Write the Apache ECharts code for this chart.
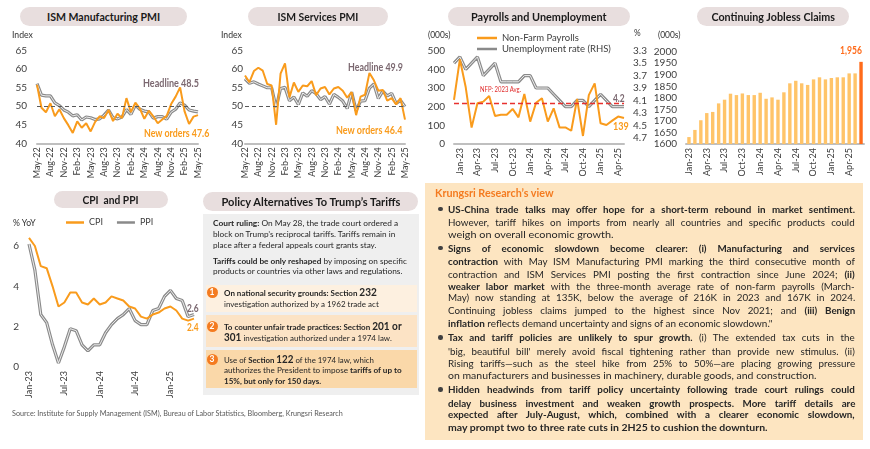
<!DOCTYPE html>
<html><head><meta charset="utf-8"><title>US economy dashboard</title>
<script src="https://cdn.jsdelivr.net/npm/echarts@6.0.0/dist/echarts.min.js"></script>
<style>
*{box-sizing:border-box}
html,body{margin:0;padding:0;background:#fff;width:870px;height:449px;overflow:hidden;font-family:Lato,"Open Sans",sans-serif;color:#262626}
#chart{position:absolute;left:0;top:0;width:870px;height:449px;z-index:1}
.t{position:absolute;white-space:nowrap;line-height:12px;height:12px;z-index:3}
.t span,.ln span{display:inline-block;white-space:nowrap}
.pill{position:absolute;background:#E8DEDE;border-radius:10px;display:flex;align-items:center;justify-content:center;z-index:2}
.pill span{font-weight:700;font-size:11.5px;color:#1a1a1a;white-space:nowrap;display:inline-block}
.box{position:absolute;z-index:0}
.ln{position:absolute;white-space:nowrap;line-height:12px;height:12px;z-index:3}
.kr .ln{font-size:9.8px;color:#262626}
.po .ln{font-size:8.4px;color:#262626}
.big{font-size:10.5px;font-weight:700}
.dot{position:absolute;width:4.5px;height:4.5px;border-radius:50%;background:#404040;z-index:3}
.num{position:absolute;width:11px;height:11px;border-radius:50%;background:#F47B20;color:#fff;font-weight:700;font-size:8.5px;line-height:11px;text-align:center;z-index:3}
</style></head>
<body>
<div id="chart"></div>

<!-- title pills -->
<div class="pill" style="left:20px;top:7px;width:167px;height:19px"><span data-w="113" data-o="50% 50%">ISM Manufacturing PMI</span></div>
<div class="pill" style="left:248px;top:7px;width:140px;height:19px"><span data-w="81" data-o="50% 50%">ISM Services PMI</span></div>
<div class="pill" style="left:448px;top:7px;width:182px;height:19px"><span data-w="136" data-o="50% 50%">Payrolls and Unemployment</span></div>
<div class="pill" style="left:697px;top:7px;width:152px;height:19px"><span data-w="124" data-o="50% 50%">Continuing Jobless Claims</span></div>
<div class="pill" style="left:54px;top:191px;width:114px;height:17px"><span data-w="56" data-o="50% 50%">CPI&nbsp; and PPI</span></div>
<div class="pill" style="left:203px;top:192px;width:215px;height:19px"><span data-w="179" data-o="50% 50%">Policy Alternatives To Trump’s Tariffs</span></div>

<!-- unit labels -->
<div class="t" style="left:12px;top:29px;font-size:9.5px;color:#333"><span data-w="21">Index</span></div>
<div class="t" style="left:221px;top:29px;font-size:9.5px;color:#333"><span data-w="21">Index</span></div>
<div class="t" style="left:428px;top:29px;font-size:9.5px;color:#333"><span data-w="23">(000s)</span></div>
<div class="t" style="left:634px;top:27px;font-size:9.5px;color:#333"><span data-w="7">%</span></div>
<div class="t" style="left:658px;top:29px;font-size:9.5px;color:#333"><span data-w="23">(000s)</span></div>
<div class="t" style="left:13px;top:217px;font-size:9px;color:#333"><span data-w="23">% YoY</span></div>

<!-- chart annotations (text built from the data arrays) -->
<div class="t" style="left:143px;top:77px;font-size:10.5px;font-weight:700;color:#7B6870"><span id="aMfgH" data-w="56"></span></div>
<div class="t" style="left:144px;top:127px;font-size:10.5px;font-weight:700;color:#F99B1C"><span id="aMfgN" data-w="65"></span></div>
<div class="t" style="left:348px;top:61px;font-size:10.5px;font-weight:700;color:#7B6870"><span id="aSvcH" data-w="55"></span></div>
<div class="t" style="left:336px;top:124px;font-size:10.5px;font-weight:700;color:#F99B1C"><span id="aSvcN" data-w="66"></span></div>
<div class="t" style="left:480px;top:83px;font-size:7px;color:#E02A2A"><span data-w="41">NFP: 2023 Avg.</span></div>
<div class="t" style="left:613px;top:92px;font-size:10.5px;font-weight:700;color:#7B6870"><span id="aUn" data-w="12"></span></div>
<div class="t" style="left:613px;top:120px;font-size:10.5px;font-weight:700;color:#F99B1C"><span id="aNfp" data-w="15.5"></span></div>
<div class="t" style="left:840px;top:44px;font-size:10.5px;font-weight:700;color:#FF6B1A"><span id="aClaims" data-w="22"></span></div>
<div class="t" style="left:187px;top:302px;font-size:10.5px;font-weight:700;color:#7B6870"><span id="aPpi" data-w="12"></span></div>
<div class="t" style="left:187px;top:321px;font-size:10.5px;font-weight:700;color:#F99B1C"><span id="aCpi" data-w="12"></span></div>

<!-- policy box -->
<div class="po">
<div class="box" style="left:203px;top:214px;width:216px;height:181px;background:#EFEFEF"></div>
<div class="ln" style="left:213px;top:217px"><span data-w="185"><b>Court ruling:</b> On May 28, the trade court ordered a</span></div>
<div class="ln" style="left:213px;top:228.3px"><span data-w="182">block on Trump’s reciprocal tariffs. Tariffs remain in</span></div>
<div class="ln" style="left:213px;top:239px"><span data-w="163">place after a federal appeals court grants stay.</span></div>
<div class="ln" style="left:213px;top:254.7px"><span data-w="194"><b>Tariffs could be only reshaped</b> by imposing on specific</span></div>
<div class="ln" style="left:213px;top:265px"><span data-w="189">products or countries via other laws and regulations.</span></div>

<div class="box" style="left:206px;top:285px;width:211px;height:27px;background:#FDF0E0"></div>
<div class="num" style="left:206.5px;top:286.5px">1</div>
<div class="ln" style="left:224px;top:286px"><span data-w="153"><b>On national security grounds: Section <span class="big">232</span></b></span></div>
<div class="ln" style="left:224px;top:298px"><span data-w="155">investigation authorized by a 1962 trade act</span></div>

<div class="box" style="left:206px;top:315px;width:211px;height:32px;background:#FCE3C5"></div>
<div class="num" style="left:206.5px;top:320.5px">2</div>
<div class="ln" style="left:224px;top:320px"><span data-w="178"><b>To counter unfair trade practices: Section <span class="big">201 or</span></b></span></div>
<div class="ln" style="left:224px;top:331.3px"><span data-w="168"><b class="big">301</b> investigation authorized under a 1974 law.</span></div>

<div class="box" style="left:206px;top:350px;width:211px;height:38px;background:#FAD8A9"></div>
<div class="num" style="left:206.5px;top:353.5px">3</div>
<div class="ln" style="left:224px;top:353px"><span data-w="150">Use of <b>Section <span class="big">122</span></b> of the 1974 law, which</span></div>
<div class="ln" style="left:224px;top:364px"><span data-w="178">authorizes the President to impose <b>tariffs of up to</b></span></div>
<div class="ln" style="left:224px;top:375px"><span data-w="97"><b>15%, but only for 150 days.</b></span></div>
</div>

<!-- Krungsri view -->
<div class="kr">
<div class="box" style="left:425px;top:183px;width:438px;height:257px;background:#FDE5C1"></div>
<div class="ln" style="left:435px;top:187px;font-size:10.5px;font-weight:700;color:#F47B20"><span data-w="119">Krungsri Research’s view</span></div>
<div class="dot" style="left:438px;top:206.8px"></div>
<div class="ln" style="left:448px;top:203px"><span data-w="407" data-j="1"><b>US-China trade talks may offer hope for a short-term rebound in market sentiment.</b></span></div>
<div class="ln" style="left:448px;top:215.5px"><span data-w="407" data-j="1">However, tariff hikes on imports from nearly all countries and specific products could</span></div>
<div class="ln" style="left:448px;top:228px"><span data-w="166">weigh on overall economic growth.</span></div>
<div class="dot" style="left:438px;top:245.8px"></div>
<div class="ln" style="left:448px;top:242px"><span data-w="407" data-j="1"><b>Signs of economic slowdown become clearer: (i) Manufacturing and services</b></span></div>
<div class="ln" style="left:448px;top:254.8px"><span data-w="407" data-j="1"><b>contraction</b> with May ISM Manufacturing PMI marking the third consecutive month of</span></div>
<div class="ln" style="left:448px;top:267.5px"><span data-w="407" data-j="1">contraction and ISM Services PMI posting the first contraction since June 2024; <b>(ii)</b></span></div>
<div class="ln" style="left:448px;top:280px"><span data-w="407" data-j="1"><b>weaker labor market</b> with the three-month average rate of non-farm payrolls (March-</span></div>
<div class="ln" style="left:448px;top:290.7px"><span data-w="407" data-j="1">May) now standing at 135K, below the average of 216K in 2023 and 167K in 2024.</span></div>
<div class="ln" style="left:448px;top:304px"><span data-w="407" data-j="1">Continuing jobless claims jumped to the highest since Nov 2021; and <b>(iii) Benign</b></span></div>
<div class="ln" style="left:448px;top:317.3px"><span data-w="324"><b>inflation</b> reflects demand uncertainty and signs of an economic slowdown."</span></div>
<div class="dot" style="left:438px;top:335.1px"></div>
<div class="ln" style="left:448px;top:331.3px"><span data-w="407" data-j="1"><b>Tax and tariff policies are unlikely to spur growth.</b> (i) The extended tax cuts in the</span></div>
<div class="ln" style="left:448px;top:344.7px"><span data-w="407" data-j="1">'big, beautiful bill' merely avoid fiscal tightening rather than provide new stimulus. (ii)</span></div>
<div class="ln" style="left:448px;top:357.3px"><span data-w="407" data-j="1">Rising tariffs—such as the steel hike from 25% to 50%—are placing growing pressure</span></div>
<div class="ln" style="left:448px;top:369px"><span data-w="369">on manufacturers and businesses in machinery, durable goods, and construction.</span></div>
<div class="dot" style="left:438px;top:387.1px"></div>
<div class="ln" style="left:448px;top:383.3px"><span data-w="407" data-j="1"><b>Hidden headwinds from tariff policy uncertainty following trade court rulings could</b></span></div>
<div class="ln" style="left:448px;top:396.7px"><span data-w="407" data-j="1"><b>delay business investment and weaken growth prospects. More tariff details are</b></span></div>
<div class="ln" style="left:448px;top:408.3px"><span data-w="407" data-j="1"><b>expected after July-August, which, combined with a clearer economic slowdown,</b></span></div>
<div class="ln" style="left:448px;top:420.7px"><span data-w="320"><b>may prompt two to three rate cuts in 2H25 to cushion the downturn.</b></span></div>
</div>

<div class="t" style="left:12px;top:407px;font-size:7.6px;color:#595959"><span data-w="331" data-j="1">Source: Institute for Supply Management (ISM), Bureau of Labor Statistics, Bloomberg, Krungsri Research</span></div>

<script>
// ---------------- DATA ----------------
const ismMonths = ['May-22','Jun-22','Jul-22','Aug-22','Sep-22','Oct-22','Nov-22','Dec-22','Jan-23','Feb-23','Mar-23','Apr-23','May-23','Jun-23','Jul-23','Aug-23','Sep-23','Oct-23','Nov-23','Dec-23','Jan-24','Feb-24','Mar-24','Apr-24','May-24','Jun-24','Jul-24','Aug-24','Sep-24','Oct-24','Nov-24','Dec-24','Jan-25','Feb-25','Mar-25','Apr-25','May-25'];
const mfgHeadline = [56.1,53.0,52.8,52.8,50.9,50.2,49.0,48.4,47.4,47.7,46.3,47.1,46.9,46.4,46.6,47.6,49.0,46.9,46.6,47.1,49.1,47.8,50.3,49.2,48.7,48.5,46.8,47.2,47.2,46.5,48.4,49.2,50.9,50.3,49.0,48.7,48.5];
const mfgNewOrders = [55.8,49.6,48.4,50.8,47.3,49.2,46.8,44.9,42.8,45.9,44.2,45.4,43.2,45.8,47.3,46.8,49.0,46.0,48.0,46.8,52.2,48.4,51.0,49.4,46.6,48.8,47.3,45.4,46.4,47.4,50.6,52.6,55.1,48.6,45.2,47.2,47.6];
const svcHeadline = [57.4,56.2,56.6,56.0,55.5,55.0,55.0,49.6,54.8,55.1,51.5,52.5,50.5,53.6,52.7,54.2,53.4,51.8,52.6,50.6,53.2,52.4,51.4,49.4,53.8,48.8,51.4,51.5,54.9,56.0,52.1,54.1,52.8,53.5,50.8,51.6,49.9];
const svcNewOrders = [58.3,56.5,59.5,60.4,59.6,56.0,55.6,45.0,58.8,61.6,52.4,56.4,53.9,55.6,55.4,56.8,53.0,54.8,55.2,53.2,54.8,55.2,54.2,52.3,53.8,47.6,52.6,53.1,59.0,57.0,54.2,54.4,51.5,52.2,50.5,52.2,46.4];

const labourMonths = ['Dec-22','Jan-23','Feb-23','Mar-23','Apr-23','May-23','Jun-23','Jul-23','Aug-23','Sep-23','Oct-23','Nov-23','Dec-23','Jan-24','Feb-24','Mar-24','Apr-24','May-24','Jun-24','Jul-24','Aug-24','Sep-24','Oct-24','Nov-24','Dec-24','Jan-25','Feb-25','Mar-25','Apr-25','May-25'];
const payrolls = [236,454,304,88,218,227,257,150,157,157,188,143,268,120,221,245,120,191,89,89,71,241,43,262,325,111,102,125,147,139];
const unemployment = [3.5,3.4,3.6,3.5,3.4,3.7,3.6,3.5,3.8,3.8,3.8,3.8,3.7,3.7,3.9,3.9,3.9,4.0,4.1,4.2,4.2,4.1,4.1,4.2,4.1,4.0,4.1,4.2,4.2,4.2];
const nfpAvg2023 = 216;

const claimsMonths = ['Jan-23','Feb-23','Mar-23','Apr-23','May-23','Jun-23','Jul-23','Aug-23','Sep-23','Oct-23','Nov-23','Dec-23','Jan-24','Feb-24','Mar-24','Apr-24','May-24','Jun-24','Jul-24','Aug-24','Sep-24','Oct-24','Nov-24','Dec-24','Jan-25','Feb-25','Mar-25','Apr-25','May-25','Jun-25'];
const claims = [1630,1661,1703,1734,1739,1776,1792,1818,1812,1819,1812,1812,1822,1796,1802,1792,1824,1863,1874,1863,1856,1880,1889,1880,1886,1889,1889,1906,1906,1956];

const priceMonths = ['Jan-23','Feb-23','Mar-23','Apr-23','May-23','Jun-23','Jul-23','Aug-23','Sep-23','Oct-23','Nov-23','Dec-23','Jan-24','Feb-24','Mar-24','Apr-24','May-24','Jun-24','Jul-24','Aug-24','Sep-24','Oct-24','Nov-24','Dec-24','Jan-25','Feb-25','Mar-25','Apr-25','May-25'];
const cpi = [6.4,6.0,5.0,4.9,4.0,3.0,3.2,3.7,3.7,3.2,3.1,3.4,3.1,3.2,3.5,3.4,3.3,3.0,2.9,2.5,2.4,2.6,2.7,2.9,3.0,2.8,2.4,2.3,2.4];
const ppi = [6.1,4.8,2.6,2.2,1.1,0.2,1.0,1.9,1.8,1.1,0.8,1.1,1.1,1.7,2.1,2.4,2.6,2.9,2.3,2.1,2.1,2.8,2.9,3.5,3.8,3.4,3.3,2.5,2.6];

// ---------------- annotations from data ----------------
const last = a => a[a.length - 1];
document.getElementById('aMfgH').textContent = 'Headline  ' + last(mfgHeadline).toFixed(1);
document.getElementById('aMfgN').textContent = 'New orders ' + last(mfgNewOrders).toFixed(1);
document.getElementById('aSvcH').textContent = 'Headline ' + last(svcHeadline).toFixed(1);
document.getElementById('aSvcN').textContent = 'New orders ' + last(svcNewOrders).toFixed(1);
document.getElementById('aUn').textContent = last(unemployment).toFixed(1);
document.getElementById('aNfp').textContent = String(last(payrolls));
document.getElementById('aClaims').textContent = last(claims).toLocaleString('en-US');
document.getElementById('aPpi').textContent = last(ppi).toFixed(1);
document.getElementById('aCpi').textContent = last(cpi).toFixed(1);

// ---------------- text fitting ----------------
function fitAll(){
  document.querySelectorAll('[data-w]').forEach(el => {
    el.style.transform = ''; el.style.wordSpacing = '';
    const W = +el.dataset.w, w = el.offsetWidth;
    if (!w) return;
    if (el.dataset.j && w < W) {
      const n = (el.textContent.match(/ /g) || []).length;
      if (n) el.style.wordSpacing = ((W - w) / n) + 'px';
    } else {
      el.style.transformOrigin = el.dataset.o || '0 50%';
      el.style.transform = 'scaleX(' + (W / w) + ')';
    }
  });
}
fitAll();
if (document.fonts && document.fonts.ready) document.fonts.ready.then(fitAll);

// ---------------- chart ----------------
const FONT = 'Lato';
const AX = '#404040';
const ORANGE = '#F99B1C';
const GRAY = '#8A8A8A';
const chart = echarts.init(document.getElementById('chart'), null, {renderer: 'canvas'});

function grid(left, top, width, height){
  return {left, top, width, height, containLabel: false, outerBoundsMode: 'none', show: false};
}
function xCat(gi, data, interval, extra){
  return Object.assign({
    type: 'category', gridIndex: gi, data, boundaryGap: false,
    axisTick: {show: false},
    axisLine: {show: true, lineStyle: {color: '#BFBFBF', width: 2}},
    axisLabel: {rotate: 90, interval, fontSize: 9, color: AX, margin: 4, fontFamily: FONT},
    splitLine: {show: false}
  }, extra || {});
}
function yVal(gi, min, max, interval, margin, extra){
  return Object.assign({
    type: 'value', gridIndex: gi, min, max, interval,
    axisLine: {show: false}, axisTick: {show: false}, splitLine: {show: false},
    axisLabel: {fontSize: 10, color: AX, margin, fontFamily: FONT, formatter: v => String(v)}
  }, extra || {});
}
function grayLine(name, data, xi, yi, extra){
  return [
    Object.assign({name, type: 'line', xAxisIndex: xi, yAxisIndex: yi, data, symbol: 'none',
      lineStyle: {color: GRAY, width: 3.2}, itemStyle: {color: GRAY}}, extra || {}),
    {name: name + ' (inner)', type: 'line', xAxisIndex: xi, yAxisIndex: yi, data, symbol: 'none',
      lineStyle: {color: '#EDEDED', width: 1}, itemStyle: {color: '#EDEDED'}}
  ];
}
function orangeLine(name, data, xi, yi, extra){
  return Object.assign({name, type: 'line', xAxisIndex: xi, yAxisIndex: yi, data, symbol: 'none',
    lineStyle: {color: ORANGE, width: 2}, itemStyle: {color: ORANGE}}, extra || {});
}
const line50 = {silent: true, symbol: 'none', label: {show: false},
  lineStyle: {type: [4, 3], color: '#595959', width: 1}, data: [{yAxis: 50}]};

const option = {
  animation: false,
  textStyle: {fontFamily: FONT},
  grid: [
    grid(37, 50.7, 161, 92.6),
    grid(245, 50.7, 160, 92.6),
    grid(454, 50.7, 170, 93.3),
    grid(686, 51.7, 178, 92.3),
    grid(29, 233.9, 165, 133.1)
  ],
  legend: [
    {left: 477, top: 33, orient: 'vertical', icon: 'rect', itemWidth: 20, itemHeight: 2.5, itemGap: 1, padding: 0,
      data: ['Non-Farm Payrolls', 'Unemployment rate (RHS)'],
      textStyle: {fontSize: 9.5, color: AX, fontFamily: FONT}},
    {left: 66, top: 218, orient: 'horizontal', icon: 'rect', itemWidth: 18, itemHeight: 2.5, itemGap: 14, padding: 0,
      data: ['CPI', 'PPI'],
      textStyle: {fontSize: 9, color: AX, fontFamily: FONT}}
  ],
  xAxis: [
    xCat(0, ismMonths, 2),
    xCat(1, ismMonths, 2),
    xCat(2, labourMonths, (i) => (i - 1) % 3 === 0),
    xCat(3, claimsMonths, 2, {boundaryGap: true}),
    xCat(4, priceMonths, 5, {axisLine: {show: false}})
  ],
  yAxis: [
    yVal(0, 40, 65, 5, 10),
    yVal(1, 40, 65, 5, 2),
    yVal(2, 0, 500, 100, 9),
    yVal(2, 3.3, 4.8, 0.1, 9, {position: 'right', inverse: true,
      axisLabel: {fontSize: 10, color: AX, margin: 9, fontFamily: FONT,
        formatter: v => { const k = Math.round(v * 10); return k % 2 === 1 ? (k / 10).toFixed(1) : ''; }}}),
    yVal(3, 1600, 2000, 50, 9),
    yVal(4, 0, 6.6, 2, 10, {axisLabel: {fontSize: 10, color: AX, margin: 10, fontFamily: FONT, showMaxLabel: false, formatter: v => String(v)}})
  ],
  series: [
    ...grayLine('Headline', mfgHeadline, 0, 0, {markLine: line50}),
    orangeLine('New orders', mfgNewOrders, 0, 0),
    ...grayLine('Services headline', svcHeadline, 1, 1, {markLine: line50}),
    orangeLine('Services new orders', svcNewOrders, 1, 1),
    ...grayLine('Unemployment rate (RHS)', unemployment, 2, 3),
    orangeLine('Non-Farm Payrolls', payrolls, 2, 2, {
      markLine: {silent: true, symbol: 'none', label: {show: false},
        lineStyle: {type: [5, 3], color: '#E8312F', width: 1.3}, data: [{yAxis: nfpAvg2023}]}}),
    {name: 'Continuing claims', type: 'bar', xAxisIndex: 3, yAxisIndex: 4, barWidth: 3.4,
      data: claims.map((v, i) => i === claims.length - 1 ? {value: v, itemStyle: {color: '#FF6B1A'}} : v),
      itemStyle: {color: '#FFC469'}},
    ...grayLine('PPI', ppi, 4, 5),
    orangeLine('CPI', cpi, 4, 5)
  ]
};
chart.setOption(option);
</script>
</body></html>
